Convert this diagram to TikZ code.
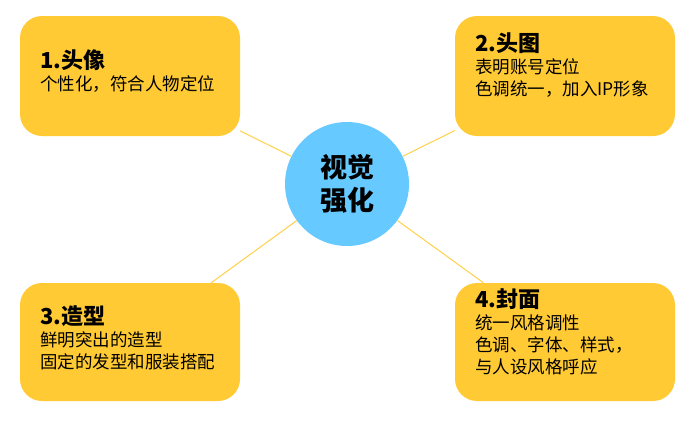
\documentclass[tikz,border=0pt]{standalone}
\usepackage{fontspec}
\setmainfont{Noto Sans CJK SC}
\begin{document}
\begin{tikzpicture}[x=1pt,y=-1pt,
  box/.style={fill=boxc,rounded corners=22pt,minimum width=220pt,minimum height=120pt,inner sep=0pt},
  txt/.style={align=left,anchor=north west,font=\fontsize{17.5}{22}\selectfont,inner sep=0pt},
  conn/.style={draw=linec,line width=1pt}]
\definecolor{boxc}{HTML}{FFCA33}
\definecolor{circc}{HTML}{66C9FF}
\definecolor{linec}{HTML}{FFD04A}
\useasboundingbox (0,0) rectangle (699,424);
\node[box] (b1) at (130,76) {};
\node[box] (b2) at (565,76) {};
\node[box,minimum height=118pt] (b3) at (130,342) {};
\node[box,minimum height=118pt] (b4) at (565,342) {};
\node[circle,fill=circc,minimum size=124pt,inner sep=0pt,align=center,font=\fontsize{27}{33}\selectfont\bfseries] (c) at (347,184) {视觉\\强化};
\draw[conn] (c) -- (b1);
\draw[conn] (c) -- (b2);
\draw[conn] (c) -- (b3);
\draw[conn] (c) -- (b4);
\node[txt] (t1) at (40,50) {{\fontsize{22}{25}\selectfont\bfseries 1.头像}\\个性化，符合人物定位};
\node[txt] (t2) at (475,33) {{\fontsize{22}{25}\selectfont\bfseries 2.头图}\\表明账号定位\\色调统一，加入IP形象};
\node[txt] (t3) at (40,305) {{\fontsize{22}{25}\selectfont\bfseries 3.造型}\\鲜明突出的造型\\固定的发型和服装搭配};
\node[txt] (t4) at (475,288) {{\fontsize{22}{25}\selectfont\bfseries 4.封面}\\统一风格调性\\色调、字体、样式，\\与人设风格呼应};
\end{tikzpicture}
\end{document}
